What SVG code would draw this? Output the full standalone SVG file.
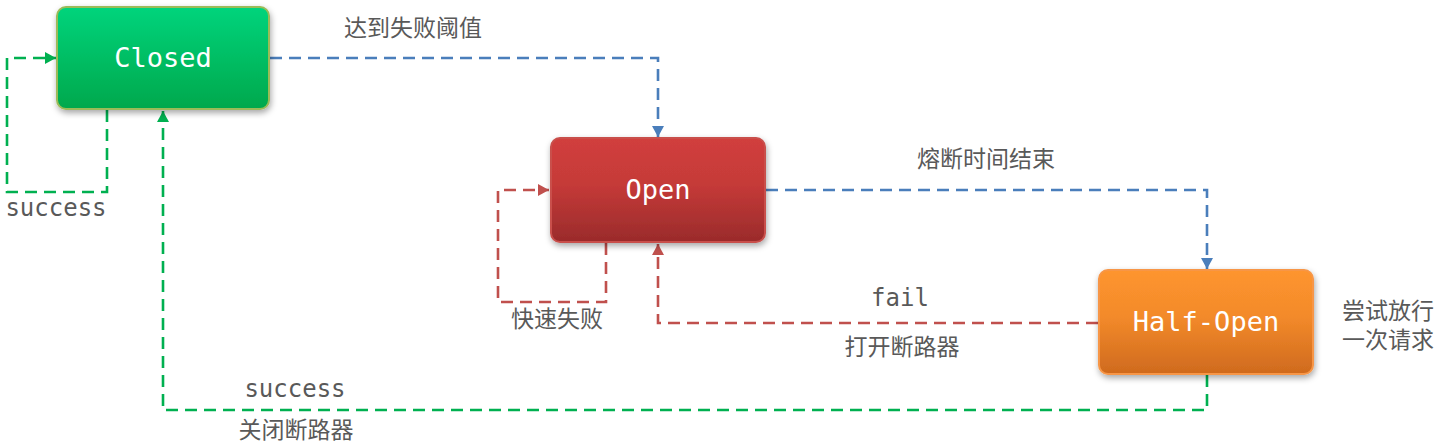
<svg xmlns="http://www.w3.org/2000/svg" width="1440" height="445" viewBox="0 0 1440 445">
<style>
.box{stroke-width:2}
.bt{font-family:"DejaVu Sans Mono","Liberation Mono",monospace;font-size:27px;fill:#ffffff;text-anchor:middle}
.lm{font-family:"DejaVu Sans Mono","Liberation Mono",monospace;font-size:24px;fill:#595959;text-anchor:middle}
.lc{font-family:"Noto Sans","Noto Sans CJK SC",sans-serif;font-size:23px;fill:#595959;text-anchor:middle}
.c{fill:none;stroke-width:2.6;stroke-dasharray:12 7}
.g{stroke:#00b050}
.b{stroke:#4a7ebb}
.r{stroke:#c0504d}
</style>
<defs>
<linearGradient id="gG" x1="0" y1="0" x2="0" y2="1"><stop offset="0" stop-color="#00d47c"/><stop offset="1" stop-color="#00a84c"/></linearGradient>
<linearGradient id="gR" x1="0" y1="0" x2="0" y2="1"><stop offset="0" stop-color="#d13f3d"/><stop offset="0.45" stop-color="#c53a38"/><stop offset="1" stop-color="#9a2b2b"/></linearGradient>
<linearGradient id="gO" x1="0" y1="0" x2="0" y2="1"><stop offset="0" stop-color="#fe952f"/><stop offset="0.45" stop-color="#f38a2a"/><stop offset="1" stop-color="#cf6a1e"/></linearGradient>
<filter id="sh" x="-20%" y="-20%" width="140%" height="150%"><feDropShadow dx="1" dy="3" stdDeviation="3" flood-color="#000" flood-opacity="0.35"/></filter>
<marker id="aG" markerUnits="userSpaceOnUse" markerWidth="12" markerHeight="12" refX="11" refY="6" orient="auto"><path d="M0,0 L11,6 L0,12 z" fill="#00b050"/></marker>
<marker id="aB" markerUnits="userSpaceOnUse" markerWidth="12" markerHeight="12" refX="11" refY="6" orient="auto"><path d="M0,0 L11,6 L0,12 z" fill="#4a7ebb"/></marker>
<marker id="aR" markerUnits="userSpaceOnUse" markerWidth="12" markerHeight="12" refX="11" refY="6" orient="auto"><path d="M0,0 L11,6 L0,12 z" fill="#c0504d"/></marker>
</defs>
<g id="connectors">
<path class="c g" d="M107,110 V192 H7 V58 H56" marker-end="url(#aG)"/>
<path class="c b" d="M270,58 H658 V137" marker-end="url(#aB)"/>
<path class="c r" d="M606,243 V302 H498 V190 H549" marker-end="url(#aR)"/>
<path class="c b" d="M766,190 H1207 V269" marker-end="url(#aB)"/>
<path class="c r" d="M1098,323 H658 V244" marker-end="url(#aR)"/>
<path class="c g" d="M1207,375 V410 H163 V111" marker-end="url(#aG)"/>
</g>
<g id="closed">
<rect class="box" x="57" y="7" width="212" height="102" rx="9" fill="url(#gG)" stroke="#9bbb59" filter="url(#sh)"/>
<text class="bt" x="163" y="67">Closed</text>
</g>
<g id="open">
<rect class="box" x="551" y="138" width="214" height="104" rx="9" fill="url(#gR)" stroke="#c9504c" filter="url(#sh)"/>
<text class="bt" x="658" y="199">Open</text>
</g>
<g id="half-open">
<rect class="box" x="1099" y="270" width="214" height="104" rx="9" fill="url(#gO)" stroke="#f79646" filter="url(#sh)"/>
<text class="bt" x="1206" y="331">Half-Open</text>
</g>
<g id="labels">
<text class="lc" x="413" y="36">达到失败阈值</text>
<text class="lc" x="986" y="167">熔断时间结束</text>
<text class="lm" x="56" y="216">success</text>
<text class="lc" x="557" y="327">快速失败</text>
<text class="lm" x="900" y="306">fail</text>
<text class="lc" x="902" y="355">打开断路器</text>
<text class="lm" x="295" y="397">success</text>
<text class="lc" x="296" y="438">关闭断路器</text>
<text class="lc" x="1342" y="319" style="text-anchor:start">尝试放行</text>
<text class="lc" x="1342" y="348" style="text-anchor:start">一次请求</text>
</g>
</svg>
